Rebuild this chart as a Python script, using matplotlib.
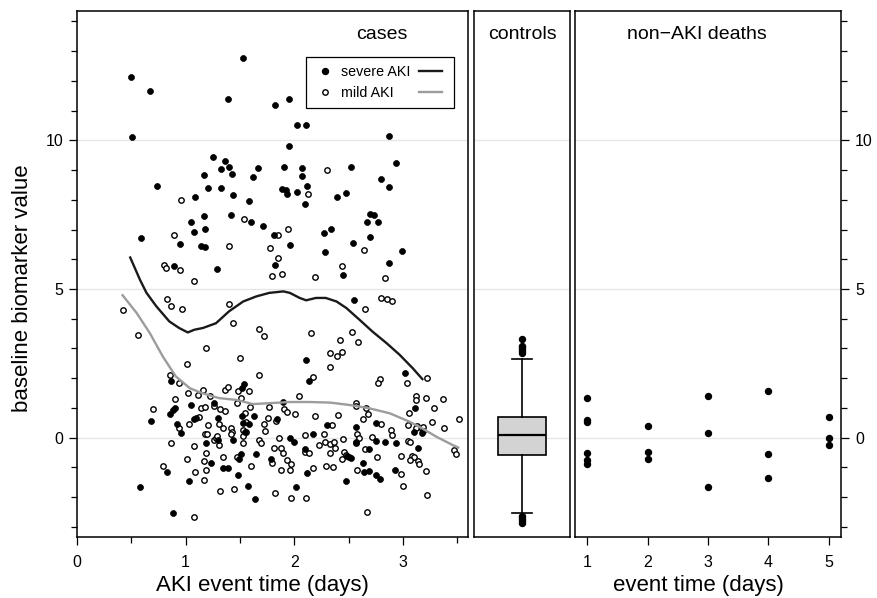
import matplotlib
matplotlib.use("Agg")
import matplotlib.pyplot as plt
from matplotlib.lines import Line2D
from matplotlib.ticker import MultipleLocator, FixedLocator

plt.rcParams['font.family'] = ['Liberation Sans', 'DejaVu Sans']

# cases: (event time, biomarker)
severe = [
    (0.50, 12.13), (0.67, 11.66), (1.53, 12.77), (1.39, 11.40), (1.82, 11.20), (1.95, 11.39), (0.51, 10.10),
    (2.03, 10.50), (2.11, 10.51), (2.87, 10.16), (1.95, 9.82), (1.25, 9.43), (1.36, 9.30), (1.33, 9.05),
    (1.40, 9.12), (1.43, 8.88), (1.17, 8.83), (1.62, 8.78), (1.67, 9.08), (1.91, 9.12), (2.07, 9.06),
    (2.07, 8.79), (2.12, 8.48), (2.52, 9.10), (2.94, 9.25), (2.80, 8.71), (2.87, 8.42), (0.74, 8.48),
    (1.21, 8.41), (1.33, 8.39), (1.44, 8.17), (1.89, 8.38), (1.92, 8.33), (1.93, 8.21), (2.03, 8.27),
    (1.58, 7.95), (2.10, 7.85), (2.39, 8.09), (2.48, 8.22), (1.09, 8.11), (1.17, 7.45), (1.42, 7.48),
    (1.60, 7.24), (1.71, 7.13), (1.05, 7.24), (1.08, 6.91), (1.18, 7.01), (0.95, 6.53), (1.14, 6.45),
    (1.18, 6.40), (0.59, 6.71), (1.81, 6.82), (1.96, 6.47), (2.27, 6.89), (2.34, 7.01), (2.28, 6.23),
    (2.54, 6.55), (2.67, 7.27), (2.70, 7.52), (2.73, 7.49), (2.77, 7.27), (2.70, 6.76), (2.99, 6.28),
    (2.87, 5.89), (2.45, 5.48), (1.82, 5.82), (1.29, 5.67), (0.89, 5.76), (2.55, 4.63), (2.11, 2.62),
    (2.14, 1.91), (3.02, 2.19), (0.87, 1.92), (0.90, 1.00), (0.88, 0.93), (0.86, 0.78), (1.52, 1.66),
    (1.54, 1.80), (0.68, 0.55), (0.92, 0.46), (0.96, 0.17), (1.05, 1.10), (1.08, 0.62), (1.10, 0.65),
    (1.26, 1.16), (1.30, 0.67), (1.19, -0.18), (1.30, -0.09), (1.52, 0.73), (1.58, 0.46), (1.53, 0.49),
    (1.55, 0.20), (1.63, 0.72), (1.44, -0.08), (1.23, -0.85), (0.83, -1.17), (1.03, -1.47), (0.58, -1.65),
    (0.88, -2.53), (1.34, -1.01), (1.39, -1.01), (1.48, -1.24), (1.49, -0.70), (1.51, -0.55), (1.57, -1.63),
    (1.64, -2.07), (1.65, -0.54), (1.79, -0.73), (1.84, 0.62), (1.96, -0.01), (1.90, 1.20), (2.00, -0.16),
    (2.02, -1.65), (2.10, -0.38), (2.17, 0.12), (2.12, -1.20), (2.30, 0.44), (2.52, -0.67), (2.49, -0.60),
    (2.48, -1.47), (2.57, 0.36), (2.57, -0.13), (2.63, -0.84), (2.64, -1.17), (2.69, -1.13), (2.69, -0.37),
    (2.75, 0.51), (2.75, -0.11), (2.75, -1.24), (2.79, -1.40), (2.84, -0.15), (2.94, -0.17), (2.93, -1.08),
    (3.11, 1.00), (3.10, 0.19), (3.18, 0.15), (3.19, 0.22), (3.14, -0.34),
]
mild = [
    (2.30, 9.00), (2.13, 8.21), (0.96, 8.00), (1.54, 7.37), (0.89, 6.83), (1.40, 6.45), (1.78, 6.39),
    (1.85, 6.80), (1.94, 7.02), (2.64, 6.31), (2.84, 5.38), (2.44, 5.76), (2.19, 5.41), (1.89, 5.50),
    (1.80, 5.45), (1.85, 6.04), (0.80, 5.82), (0.82, 5.70), (0.95, 5.65), (1.08, 5.26), (0.42, 4.31),
    (0.56, 3.46), (0.83, 4.67), (0.87, 4.43), (0.97, 4.33), (1.40, 4.48), (1.44, 3.85), (1.68, 3.65),
    (1.72, 3.43), (1.19, 3.02), (1.01, 2.48), (1.50, 2.67), (1.68, 2.10), (2.15, 3.52), (2.42, 3.29),
    (2.33, 2.84), (2.39, 2.74), (2.44, 2.87), (2.33, 2.37), (2.53, 3.54), (2.59, 3.21), (2.65, 4.33),
    (2.80, 4.70), (2.85, 4.66), (2.90, 4.61), (2.17, 2.04), (3.04, 1.83), (3.22, 2.00), (2.79, 1.98),
    (2.77, 1.85), (0.86, 2.10), (0.90, 1.31), (0.94, 1.83), (1.02, 1.49), (1.11, 1.45), (1.16, 1.61),
    (1.22, 1.40), (1.36, 1.60), (1.39, 1.70), (1.48, 1.57), (1.58, 1.56), (1.51, 1.35), (1.47, 1.16),
    (1.59, 1.03), (0.70, 0.96), (0.94, 0.33), (1.14, 1.01), (1.18, 1.03), (1.12, 0.71), (1.03, 0.47),
    (1.21, 0.42), (1.26, 1.08), (1.32, 0.97), (1.36, 0.90), (1.31, 0.46), (1.34, 0.31), (1.18, 0.13),
    (1.20, 0.13), (1.26, -0.07), (1.28, -0.01), (1.29, 0.04), (1.31, -0.25), (1.42, 0.31), (1.43, 0.20),
    (1.42, 0.13), (1.55, 0.84), (1.56, 0.53), (1.53, 0.26), (1.56, 0.20), (1.53, 0.07), (1.53, -0.19),
    (1.08, -0.29), (1.19, -0.52), (1.17, -0.80), (1.19, -1.09), (1.09, -1.15), (1.01, -0.71), (0.87, -0.19),
    (0.79, -0.94), (1.17, -1.43), (1.08, -2.66), (1.34, -0.66), (1.32, -1.78), (1.45, -1.73), (1.47, -0.64),
    (1.60, -0.96), (1.68, -0.07), (1.69, -0.19), (1.72, 0.46), (1.73, 0.22), (1.77, 1.04), (1.81, -0.34),
    (1.80, -0.84), (1.76, 0.67), (1.83, 0.56), (1.82, -1.87), (1.88, -0.35), (1.90, -0.53), (1.88, -1.09),
    (1.86, -0.01), (1.91, 0.98), (1.93, 0.88), (1.93, -0.76), (1.96, -1.09), (1.97, -0.87), (2.01, 0.81),
    (1.97, -2.03), (2.04, 1.39), (2.10, 0.08), (2.10, -0.47), (2.14, -0.52), (2.17, -1.01), (2.11, -2.04),
    (2.19, 0.72), (2.23, -0.25), (2.27, 0.12), (2.28, -0.13), (2.33, -0.22), (2.37, -0.13), (2.38, -0.35),
    (2.35, 0.42), (2.33, -0.51), (2.29, -0.94), (2.36, -0.98), (2.40, 0.75), (2.45, -0.04), (2.46, -0.49),
    (2.48, -0.57), (2.50, -0.64), (2.44, -0.73), (2.57, 1.18), (2.57, 1.07), (2.58, 0.13), (2.60, 0.00),
    (2.57, -0.17), (2.58, -1.09), (2.63, 0.64), (2.66, 1.01), (2.68, 0.81), (2.65, -0.37), (2.72, 0.01),
    (2.80, 0.47), (2.76, -0.66), (2.67, -2.49), (2.89, 0.27), (2.90, 0.09), (2.98, -1.22), (2.98, -0.62),
    (3.00, -1.61), (3.06, 0.82), (3.05, 0.44), (3.12, 1.40), (3.12, 1.27), (3.13, 0.40), (3.12, 0.31),
    (3.18, 0.29), (3.19, 0.37), (3.05, -0.10), (3.07, -0.13), (3.08, -0.61), (3.10, -0.66), (3.07, -0.76),
    (3.14, -0.79), (3.15, -0.89), (3.21, -1.12), (3.22, -1.92), (3.21, 1.33), (3.29, 0.99), (3.27, 0.52),
    (3.37, 1.30), (3.38, 0.34), (3.52, 0.64), (3.47, -0.42), (3.49, -0.56),
]

# smoothers
severe_curve_x = [0.49, 0.58, 0.64, 0.73, 0.85, 0.94, 1.02, 1.08, 1.16, 1.28, 1.40, 1.53, 1.65, 1.77,
                  1.90, 1.96, 2.05, 2.11, 2.20, 2.29, 2.39, 2.48, 2.60, 2.72, 2.85, 2.97, 3.09, 3.18]
severe_curve_y = [6.06, 5.31, 4.87, 4.42, 3.91, 3.69, 3.54, 3.63, 3.69, 3.85, 4.25, 4.58, 4.75, 4.87,
                  4.92, 4.87, 4.70, 4.62, 4.70, 4.70, 4.58, 4.36, 3.97, 3.57, 3.18, 2.79, 2.34, 1.97]
mild_curve_x = [0.42, 0.55, 0.67, 0.79, 0.91, 1.04, 1.16, 1.31, 1.47, 1.62, 1.77, 1.96, 2.14, 2.33,
                2.51, 2.69, 2.88, 3.06, 3.18, 3.31, 3.46, 3.51]
mild_curve_y = [4.79, 4.19, 3.52, 2.73, 2.06, 1.66, 1.49, 1.33, 1.27, 1.13, 1.16, 1.20, 1.20, 1.18,
                1.10, 0.99, 0.82, 0.54, 0.31, 0.03, -0.25, -0.33]

# controls box summary
control_stats = dict(med=0.08, q1=-0.58, q3=0.70, whislo=-2.54, whishi=2.63,
                     fliers=[2.85, 2.92, 2.98, 3.05, 3.10, 3.32, -2.62, -2.68, -2.74, -2.80, -2.86])

# non-AKI deaths
death_days = [1, 1, 1, 1, 1, 1, 2, 2, 2, 3, 3, 3, 4, 4, 4, 5, 5, 5]
death_vals = [1.35, 0.60, 0.54, -0.51, -0.74, -0.87, 0.39, -0.49, -0.73,
              1.39, 0.15, -1.67, 1.57, -0.54, -1.35, 0.71, 0.00, -0.23]

W, H = 878, 598
fig = plt.figure(figsize=(W / 100, H / 100), dpi=100)
bot = 1 - 537 / H
ht = (537 - 11) / H
ax1 = fig.add_axes([77 / W, bot, 391 / W, ht])
ax2 = fig.add_axes([474 / W, bot, 96 / W, ht])
ax3 = fig.add_axes([575 / W, bot, 266 / W, ht])

for ax in (ax1, ax2, ax3):
    ax.set_ylim(-3.34, 14.35)
    for v in (0, 5, 10):
        ax.axhline(v, color='#e6e6e6', lw=1.0, zorder=0)
    for s in ax.spines.values():
        s.set_linewidth(1.1)
    ax.yaxis.set_major_locator(MultipleLocator(5))
    ax.yaxis.set_minor_locator(MultipleLocator(1))
    ax.tick_params(which='major', length=6, width=0.9, labelsize=11.5, pad=4)
    ax.tick_params(which='minor', length=4, width=0.9)

# cases panel
ax1.set_xlim(0, 3.6)
ax1.xaxis.set_major_locator(FixedLocator([0, 1, 2, 3]))
ax1.xaxis.set_minor_locator(FixedLocator([0.5, 1.5, 2.5, 3.5]))
ax1.tick_params(axis='y', which='both', left=True, right=False)
ax1.set_yticks([0, 5, 10])
ax1.set_yticklabels(['0', '5', '10'])
ax1.tick_params(axis='x', pad=7)

sx = [p[0] for p in severe]
sy = [p[1] for p in severe]
mx = [p[0] for p in mild]
my = [p[1] for p in mild]
ax1.plot(mx, my, 'o', ms=3.9, mfc='white', mec='black', mew=1.0, ls='none', zorder=2)
ax1.plot(sx, sy, 'o', ms=4.3, mfc='black', mec='black', mew=0.5, ls='none', zorder=3)
ax1.plot(severe_curve_x, severe_curve_y, color='#1a1a1a', lw=1.7, zorder=4)
ax1.plot(mild_curve_x, mild_curve_y, color='#9c9c9c', lw=1.7, zorder=4)
ax1.text(0.78, 0.955, 'cases', transform=ax1.transAxes, ha='center', va='center', fontsize=14)

handles = [
    Line2D([], [], marker='o', ls='none', ms=4.3, mfc='black', mec='black'),
    Line2D([], [], marker='o', ls='none', ms=3.9, mfc='white', mec='black', mew=1.0),
    Line2D([], [], color='#1a1a1a', lw=1.7),
    Line2D([], [], color='#9c9c9c', lw=1.7),
]
leg = ax1.legend(handles, ['severe AKI', 'mild AKI', '', ''], ncol=2, loc='upper right',
                 bbox_to_anchor=(0.964, 0.913), borderaxespad=0, fontsize=10.3,
                 handlelength=1.6, handletextpad=0.3, columnspacing=0.6,
                 borderpad=0.55, labelspacing=0.55, fancybox=False, framealpha=1,
                 edgecolor='black')
leg.get_frame().set_linewidth(0.9)

# controls panel
ax2.set_xlim(0, 1)
ax2.tick_params(which='both', left=False, bottom=False, labelleft=False, labelbottom=False)
ax2.bxp([control_stats], positions=[0.5], widths=[0.5], capwidths=[0.2], patch_artist=True,
        boxprops=dict(facecolor='#d3d3d3', edgecolor='black', lw=1.2),
        medianprops=dict(color='black', lw=1.6),
        whiskerprops=dict(color='black', lw=1.2),
        capprops=dict(color='black', lw=1.2),
        flierprops=dict(marker='o', mfc='black', mec='black', ms=4.3))
ax2.text(0.5, 0.955, 'controls', transform=ax2.transAxes, ha='center', va='center', fontsize=14)

# deaths panel
ax3.set_xlim(0.8, 5.2)
ax3.set_xticks([1, 2, 3, 4, 5])
ax3.tick_params(axis='x', which='minor', bottom=False)
ax3.tick_params(axis='x', pad=7)
ax3.tick_params(axis='y', which='both', left=False, labelleft=False, right=True, labelright=True)
ax3.set_yticks([0, 5, 10])
ax3.set_yticklabels(['0', '5', '10'])
ax3.plot(death_days, death_vals, 'o', ms=4.3, mfc='black', mec='black', ls='none')
ax3.text(0.46, 0.955, 'non\u2212AKI deaths', transform=ax3.transAxes, ha='center', va='center',
         fontsize=14)

fig.text(262 / W, 1 - 585 / H, 'AKI event time (days)', ha='center', va='center', fontsize=16)
fig.text(698 / W, 1 - 585 / H, 'event time (days)', ha='center', va='center', fontsize=16)
fig.text(23 / W, 1 - 288 / H, 'baseline biomarker value', ha='center', va='center',
         rotation=90, fontsize=16)

fig.savefig('out.png', dpi=100)
